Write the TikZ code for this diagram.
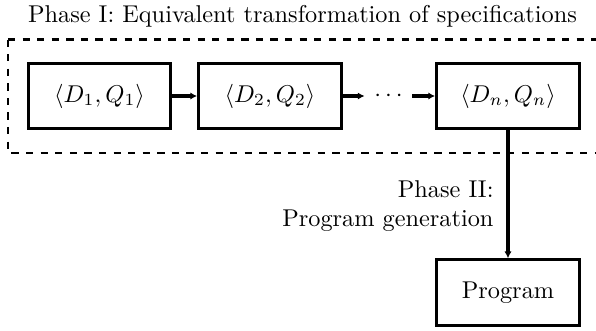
\documentclass[tikz,border=0pt]{standalone}
\usetikzlibrary{arrows.meta}
\begin{document}
\begin{tikzpicture}[x=0.4115pt,y=-0.4115pt,
  specbox/.style={draw,line width=1.2pt,minimum width=58.8pt,minimum height=27pt,inner sep=0pt},
  flow/.style={line width=1.6pt,-{Latex[length=2.8pt,width=3pt]}},
  groupbox/.style={draw,dashed,line width=0.85pt}]
\useasboundingbox (0,0) rectangle (596,330);
\node (title) at (302.5,16) {Phase I: Equivalent transformation of specifications};
\draw[groupbox] (8,39.5) -- (600,39.5) (8,39.5) -- (8,152.7) -- (600,152.7);
\node[specbox] (b1) at (99.5,96) {$\langle D_1, Q_1\rangle$};
\node[specbox] (b2) at (270,96) {$\langle D_2, Q_2\rangle$};
\node[inner sep=0pt,minimum width=19.3pt] (dots) at (388.5,96) {$\cdots$};
\node[specbox] (b3) at (508,96) {$\langle D_n, Q_n\rangle$};
\node[specbox] (prog) at (508,292.5) {Program};
\draw[flow] (b1) -- (b2);
\draw[flow] (b2) -- (dots.west);
\draw[flow] (dots.east) -- (b3);
\draw[flow] (b3) -- (prog);
\node[anchor=east,align=right,inner sep=0pt] (lbl) at (494,206) {Phase II:\\Program generation};
\end{tikzpicture}
\end{document}
